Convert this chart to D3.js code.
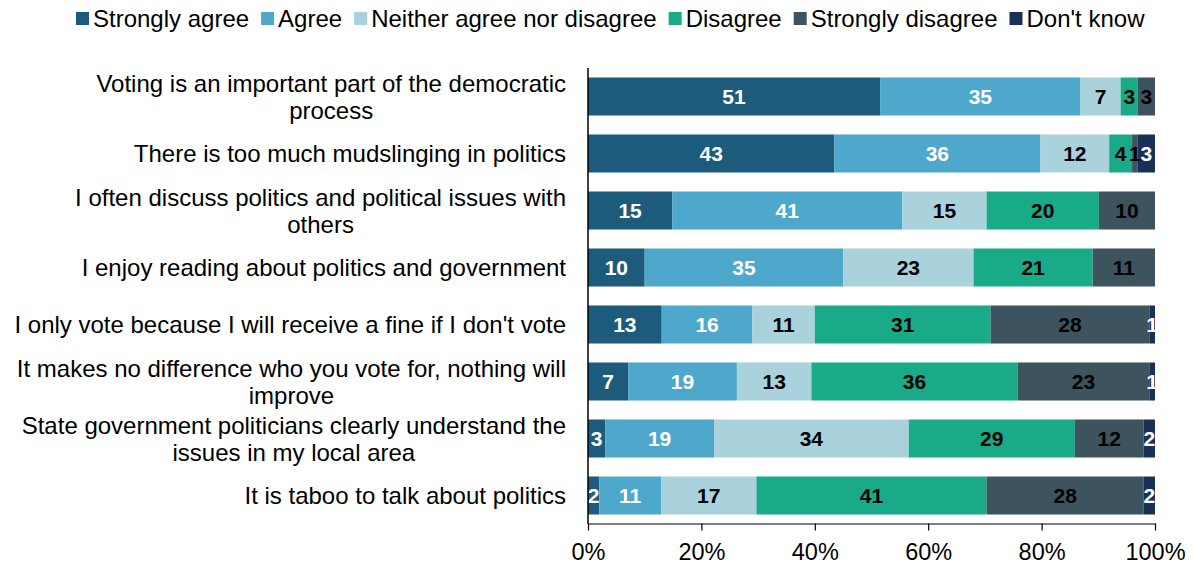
<!DOCTYPE html>
<html>
<head>
<meta charset="utf-8">
<script src="https://cdnjs.cloudflare.com/ajax/libs/d3/7.8.5/d3.min.js"></script>
<style>
  html, body { margin: 0; padding: 0; background: #fff; }
  svg { display: block; font-family: "Liberation Sans", Arial, sans-serif; }
</style>
</head>
<body>
<svg id="chart" width="1194" height="565"></svg>
<script>
const categories = [
  "Voting is an important part of the democratic process",
  "There is too much mudslinging in politics",
  "I often discuss politics and political issues with others",
  "I enjoy reading about politics and government",
  "I only vote because I will receive a fine if I don't vote",
  "It makes no difference who you vote for, nothing will improve",
  "State government politicians clearly understand the issues in my local area",
  "It is taboo to talk about politics"
];
const seriesNames = ["Strongly agree", "Agree", "Neither agree nor disagree", "Disagree", "Strongly disagree", "Don't know"];
const stronglyAgree    = [51, 43, 15, 10, 13, 7, 3, 2];
const agree            = [35, 36, 41, 35, 16, 19, 19, 11];
const neither          = [7, 12, 15, 23, 11, 13, 34, 17];
const disagree         = [3, 4, 20, 21, 31, 36, 29, 41];
const stronglyDisagree = [3, 1, 10, 11, 28, 23, 12, 28];
const dontKnow         = [0, 3, 0, 0, 1, 1, 2, 2];
const tickValues = [0, 0.2, 0.4, 0.6, 0.8, 1.0];

const colors = ["#1c5b7b", "#4ea8cc", "#a9d2dc", "#19ab88", "#3d535e", "#1a3157"];
const labelColors = ["#fff", "#fff", "#000", "#000", "#000", "#fff"];

const seriesValues = [stronglyAgree, agree, neither, disagree, stronglyDisagree, dontKnow];
const rows = categories.map((c, i) => {
  const o = { cat: c };
  seriesNames.forEach((s, j) => o[s] = seriesValues[j][i]);
  return o;
});

const svg = d3.select("#chart");
const margin = { left: 588, right: 1155, top: 68, bottom: 524 };

const x = d3.scaleLinear().domain([0, 1]).range([margin.left, margin.right]);
const y = d3.scaleBand().domain(categories).range([margin.top, margin.bottom]).paddingInner(0.333).paddingOuter(0.1665);

const stack = d3.stack().keys(seriesNames).offset(d3.stackOffsetExpand);
const stacked = stack(rows);

svg.append("defs").append("clipPath").attr("id", "plotclip")
  .append("rect").attr("x", margin.left).attr("y", 0).attr("width", margin.right - margin.left).attr("height", 565);

const g = svg.append("g");
stacked.forEach((layer, j) => {
  g.selectAll(null).data(layer).enter().append("rect")
    .attr("x", d => x(d[0]))
    .attr("y", d => y(d.data.cat))
    .attr("width", d => Math.max(0, x(d[1]) - x(d[0])))
    .attr("height", y.bandwidth())
    .attr("fill", colors[j]);
});

const lg = svg.append("g").attr("clip-path", "url(#plotclip)");
stacked.forEach((layer, j) => {
  lg.selectAll(null).data(layer.filter(d => d.data[seriesNames[j]] > 0)).enter().append("text")
    .attr("x", d => (x(d[0]) + x(d[1])) / 2)
    .attr("y", d => y(d.data.cat) + y.bandwidth() / 2)
    .attr("dy", "0.36em")
    .attr("text-anchor", "middle")
    .attr("font-size", "21px")
    .attr("font-weight", "bold")
    .attr("fill", labelColors[j])
    .text(d => d.data[seriesNames[j]]);
});

// x axis
const xAxis = d3.axisBottom(x).tickValues(tickValues).tickFormat(d3.format(".0%")).tickSize(7).tickSizeOuter(0);
const xa = svg.append("g").attr("transform", `translate(0,${margin.bottom - 0.5})`).call(xAxis);
xa.select(".domain").attr("stroke", "#000").attr("stroke-width", 1.2);
xa.selectAll(".tick line").attr("stroke", "#000").attr("stroke-width", 1.2);
xa.selectAll(".tick text").attr("font-size", "23.5px").attr("fill", "#000").attr("dy", "0").attr("y", 36)
  .attr("font-family", "Liberation Sans, Arial, sans-serif");

// y axis line
svg.append("line").attr("x1", margin.left).attr("x2", margin.left)
  .attr("y1", margin.top).attr("y2", margin.bottom).attr("stroke", "#000").attr("stroke-width", 1.5);

// category labels (wrapped)
const catG = svg.append("g");
const maxW = 556;
const rightEdge = 566;
const lineH = 27;
categories.forEach(c => {
  const t = catG.append("text").attr("font-size", "24px").attr("fill", "#000");
  const words = c.split(" ");
  const lines = [];
  let cur = "";
  words.forEach(w => {
    const trial = cur ? cur + " " + w : w;
    t.text(trial);
    if (t.node().getComputedTextLength() > maxW && cur) {
      lines.push(cur);
      cur = w;
    } else cur = trial;
  });
  lines.push(cur);
  const widths = lines.map(l => { t.text(l); return t.node().getComputedTextLength(); });
  t.text(null);
  const bw = d3.max(widths);
  const cx = rightEdge - bw / 2;
  const cy = y(c) + y.bandwidth() / 2;
  const startY = cy - (lines.length - 1) * lineH / 2;
  lines.forEach((l, i) => {
    t.append("tspan").attr("x", cx).attr("y", startY + i * lineH).attr("dy", "0.36em")
      .attr("text-anchor", "middle").text(l);
  });
});

// legend
const leg = svg.append("g");
let lx = 76;
seriesNames.forEach((s, j) => {
  leg.append("rect").attr("x", lx).attr("y", 12).attr("width", 13).attr("height", 13).attr("fill", colors[j]);
  const tt = leg.append("text").attr("x", lx + 17).attr("y", 18.5).attr("dy", "0.36em")
    .attr("font-size", "24px").attr("fill", "#000").text(s);
  lx += 17 + tt.node().getComputedTextLength() + 12;
});
</script>
</body>
</html>
